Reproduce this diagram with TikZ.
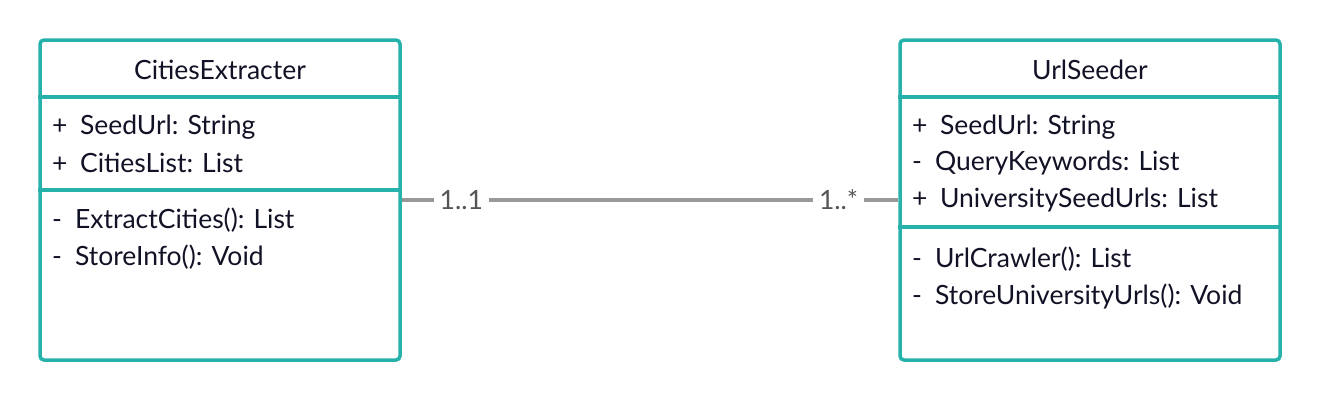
\documentclass[tikz,border=0pt]{standalone}
\usepackage{fontspec}
\setmainfont{Lato}
\definecolor{teal1}{RGB}{38,178,170}
\definecolor{conn}{RGB}{153,153,153}
\definecolor{txt}{RGB}{18,18,38}
\definecolor{lbl}{RGB}{85,85,85}
\begin{document}
\begin{tikzpicture}[x=1pt,y=-1pt,
  classbox/.style={draw=teal1,line width=3.5pt,rounded corners=4pt,fill=white,inner sep=0pt},
  divider/.style={draw=teal1,line width=3.5pt},
  title/.style={font=\fontsize{26.5}{30}\selectfont,text=txt,inner sep=0pt},
  member/.style={font=\fontsize{26.5}{30}\selectfont,text=txt,anchor=west,inner sep=0pt},
  mult/.style={font=\fontsize{26.5}{30}\selectfont,text=lbl,fill=white,inner sep=6pt},
  assoc/.style={draw=conn,line width=3.5pt}]
\useasboundingbox (0,0) rectangle (1321,400);
\node[classbox,minimum width=360pt,minimum height=320pt] (ce) at (220,200) {};
\node[classbox,minimum width=380pt,minimum height=320pt] (us) at (1090,200) {};
\draw[assoc] (ce.east) -- node[mult,pos=0.12] (m1) {1..1} node[mult,pos=0.88] (m2) {1..*} (us.west);
% left class
\draw[divider] (ce.west |- 0,97) -- (ce.east |- 0,97);
\draw[divider] (ce.west |- 0,190) -- (ce.east |- 0,190);
\node[title] (cet) at (220,70) {CitiesExtracter};
\node[member] (ca1) at (52,127) {+\hspace{12.5pt}SeedUrl: String};
\node[member] (ca2) at (52,163) {+\hspace{12.5pt}CitiesList: List};
\node[member] (cm1) at (52,220) {-\hspace{13pt}ExtractCities(): List};
\node[member] (cm2) at (52,257) {-\hspace{13pt}StoreInfo(): Void};
% right class
\draw[divider] (us.west |- 0,97) -- (us.east |- 0,97);
\draw[divider] (us.west |- 0,227) -- (us.east |- 0,227);
\node[title] (ust) at (1090,70) {UrlSeeder};
\node[member] (ua1) at (912,127) {+\hspace{12.5pt}SeedUrl: String};
\node[member] (ua2) at (912,163) {-\hspace{13pt}QueryKeywords: List};
\node[member] (ua3) at (912,200) {+\hspace{12.5pt}UniversitySeedUrls: List};
\node[member] (um1) at (912,259) {-\hspace{13pt}UrlCrawler(): List};
\node[member] (um2) at (912,296) {-\hspace{13pt}StoreUniversityUrls(): Void};
\end{tikzpicture}
\end{document}
